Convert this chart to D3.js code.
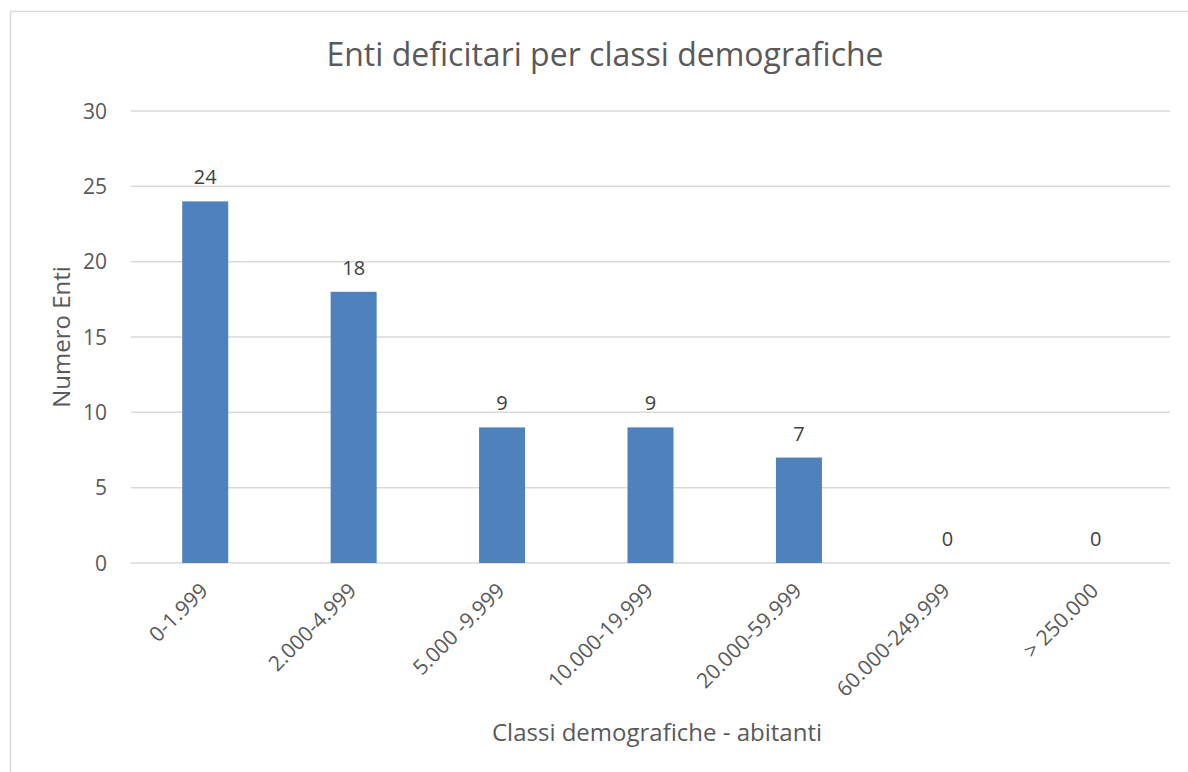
<!DOCTYPE html>
<html>
<head>
<meta charset="utf-8">
<script src="https://cdn.jsdelivr.net/npm/d3@7/dist/d3.min.js"></script>
<style>
  html, body { margin: 0; padding: 0; background: #fff; overflow: hidden; }
  text { font-family: "Open Sans", "Noto Sans", sans-serif; }
</style>
</head>
<body>
<div id="chart"></div>
<script>
const categories = ["0-1.999", "2.000-4.999", "5.000 -9.999", "10.000-19.999", "20.000-59.999", "60.000-249.999", "> 250.000"];
const values = [24, 18, 9, 9, 7, 0, 0];
const yTicks = [0, 5, 10, 15, 20, 25, 30];

const W = 1188, H = 772;
const plot = {left: 131, right: 1170, top: 111, bottom: 563};

const svg = d3.select("#chart")
  .append("svg")
    .attr("width", W)
    .attr("height", H);

// chart border (cut off at right and bottom like the original)
svg.append("rect")
  .attr("x", 10.5).attr("y", 11.5)
  .attr("width", W + 20).attr("height", H + 20)
  .attr("fill", "#fff")
  .attr("stroke", "#d9d9d9")
  .attr("stroke-width", 1.5);

const x = d3.scaleBand()
  .domain(categories)
  .range([plot.left, plot.right])
  .paddingInner(0.69)
  .paddingOuter(0.345);

const y = d3.scaleLinear()
  .domain([0, 30])
  .range([plot.bottom, plot.top]);

// gridlines
svg.append("g")
  .selectAll("line")
  .data(yTicks)
  .join("line")
    .attr("x1", plot.left)
    .attr("x2", plot.right)
    .attr("y1", d => y(d))
    .attr("y2", d => y(d))
    .attr("stroke", "#d9d9d9")
    .attr("stroke-width", 1.5);

// y tick labels
svg.append("g")
  .selectAll("text")
  .data(yTicks)
  .join("text")
    .attr("x", 107)
    .attr("y", d => y(d))
    .attr("dy", "0.36em")
    .attr("text-anchor", "end")
    .attr("font-size", 21)
    .attr("fill", "#595959")
    .text(d => d);

// bars
svg.append("g")
  .selectAll("rect")
  .data(values)
  .join("rect")
    .attr("x", (d, i) => x(categories[i]))
    .attr("y", d => y(d))
    .attr("width", x.bandwidth())
    .attr("height", d => y(0) - y(d))
    .attr("fill", "#4f81bd");

// data labels
svg.append("g")
  .selectAll("text")
  .data(values)
  .join("text")
    .attr("x", (d, i) => x(categories[i]) + x.bandwidth() / 2)
    .attr("y", d => y(d) - 17)
    .attr("text-anchor", "middle")
    .attr("font-size", 20)
    .attr("fill", "#404040")
    .text(d => d);

// x tick labels, rotated -45
svg.append("g")
  .selectAll("text")
  .data(categories)
  .join("text")
    .attr("transform", d => `translate(${x(d) + x.bandwidth() / 2 + 4},${plot.bottom + 29}) rotate(-45)`)
    .attr("text-anchor", "end")
    .attr("font-size", 21)
    .attr("fill", "#595959")
    .text(d => d);

// title
svg.append("text")
  .attr("x", 605)
  .attr("y", 66)
  .attr("text-anchor", "middle")
  .attr("font-size", 32)
  .attr("fill", "#595959")
  .text("Enti deficitari per classi demografiche");

// axis titles
svg.append("text")
  .attr("transform", `translate(70,${(plot.top + plot.bottom) / 2}) rotate(-90)`)
  .attr("text-anchor", "middle")
  .attr("font-size", 24)
  .attr("fill", "#595959")
  .text("Numero Enti");

svg.append("text")
  .attr("x", 657)
  .attr("y", 741)
  .attr("text-anchor", "middle")
  .attr("font-size", 24)
  .attr("fill", "#595959")
  .text("Classi demografiche - abitanti");
</script>
</body>
</html>
